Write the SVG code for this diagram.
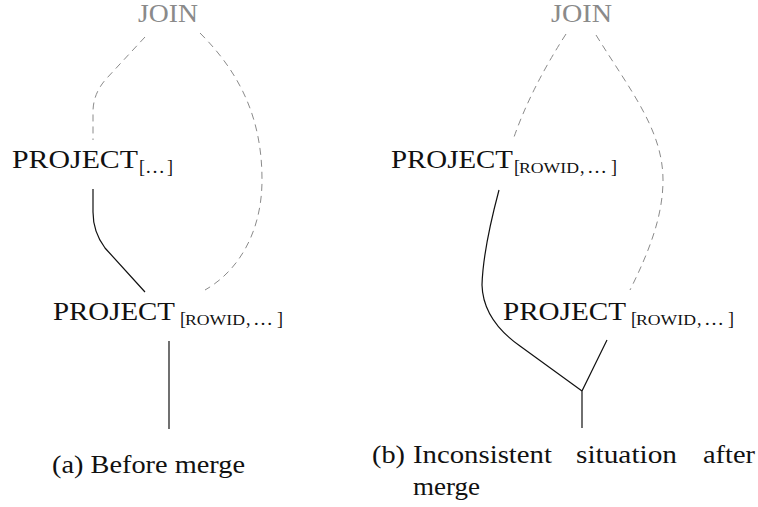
<svg xmlns="http://www.w3.org/2000/svg" width="758" height="507" viewBox="0 0 758 507">
  <style>
    text { font-family: "Liberation Serif", "Times New Roman", serif; fill: #111; }
    .op { font-size: 26px; }
    .sub { font-size: 18px; }
    .sc { font-size: 14px; }
    .join { font-size: 25px; fill: #8a8a8a; }
    .cap { font-size: 26px; }
    .solid { fill: none; stroke: #111; stroke-width: 1.2; }
    .dash { fill: none; stroke: #8a8a8a; stroke-width: 1; stroke-dasharray: 7 5; }
  </style>
  <rect width="758" height="507" fill="#fff"/>

  <!-- (a) before merge -->
  <g id="a-join"><text class="join" x="138" y="22" textLength="60" lengthAdjust="spacingAndGlyphs">JOIN</text></g>
  <g id="a-project-top">
    <text class="op" x="12" y="168" textLength="126" lengthAdjust="spacingAndGlyphs">PROJECT</text>
    <text class="sub" y="173"><tspan x="139">[</tspan><tspan x="145" textLength="20" lengthAdjust="spacingAndGlyphs">…</tspan><tspan x="167">]</tspan></text>
  </g>
  <g id="a-project-rowid">
    <text class="op" x="53" y="320" textLength="122" lengthAdjust="spacingAndGlyphs">PROJECT</text>
    <text class="sub" y="325"><tspan x="180">[</tspan><tspan class="sc" x="185" textLength="60" lengthAdjust="spacingAndGlyphs">ROWID</tspan><tspan x="246">,</tspan><tspan x="253" textLength="20" lengthAdjust="spacingAndGlyphs">…</tspan><tspan x="277">]</tspan></text>
  </g>
  <g id="a-caption"><text class="cap" x="52" y="473" textLength="193" lengthAdjust="spacingAndGlyphs">(a) Before merge</text></g>

  <!-- (b) inconsistent situation after merge -->
  <g id="b-join"><text class="join" x="551" y="22" textLength="61" lengthAdjust="spacingAndGlyphs">JOIN</text></g>
  <g id="b-project-top">
    <text class="op" x="391" y="168" textLength="122" lengthAdjust="spacingAndGlyphs">PROJECT</text>
    <text class="sub" y="173"><tspan x="514">[</tspan><tspan class="sc" x="519" textLength="60" lengthAdjust="spacingAndGlyphs">ROWID</tspan><tspan x="580">,</tspan><tspan x="587" textLength="20" lengthAdjust="spacingAndGlyphs">…</tspan><tspan x="611">]</tspan></text>
  </g>
  <g id="b-project-bottom">
    <text class="op" x="503" y="320" textLength="123" lengthAdjust="spacingAndGlyphs">PROJECT</text>
    <text class="sub" y="325"><tspan x="631">[</tspan><tspan class="sc" x="636" textLength="60" lengthAdjust="spacingAndGlyphs">ROWID</tspan><tspan x="697">,</tspan><tspan x="704" textLength="20" lengthAdjust="spacingAndGlyphs">…</tspan><tspan x="728">]</tspan></text>
  </g>
  <g id="b-caption">
    <text class="cap" x="372" y="463" textLength="33" lengthAdjust="spacingAndGlyphs">(b)</text>
    <text class="cap" x="413" y="463" textLength="139" lengthAdjust="spacingAndGlyphs">Inconsistent</text>
    <text class="cap" x="576" y="463" textLength="101" lengthAdjust="spacingAndGlyphs">situation</text>
    <text class="cap" x="703" y="463" textLength="52" lengthAdjust="spacingAndGlyphs">after</text>
    <text class="cap" x="413" y="495" textLength="67" lengthAdjust="spacingAndGlyphs">merge</text>
  </g>

  <g id="connectors">
    <!-- (a) -->
    <path class="dash" d="M145,37 L107,78 Q93,93 93,112 L93,140"/>
    <path class="dash" d="M200,33 C245,78 262,125 262,180 C262,230 240,270 205,290"/>
    <path class="solid" d="M93,189 L93,212 Q93,232 105,248 L145,292"/>
    <path class="solid" d="M169,341 L169,429"/>
    <!-- (b) -->
    <path class="dash" d="M566,34 Q530,90 513,140"/>
    <path class="dash" d="M596,35 C630,90 663,130 663,180 C663,215 650,250 630,290"/>
    <path class="solid" d="M499,190 Q483,250 482,285 Q483,320 520,346 L582,391"/>
    <path class="solid" d="M607,340 L582,391 L582,428"/>
  </g>
</svg>
